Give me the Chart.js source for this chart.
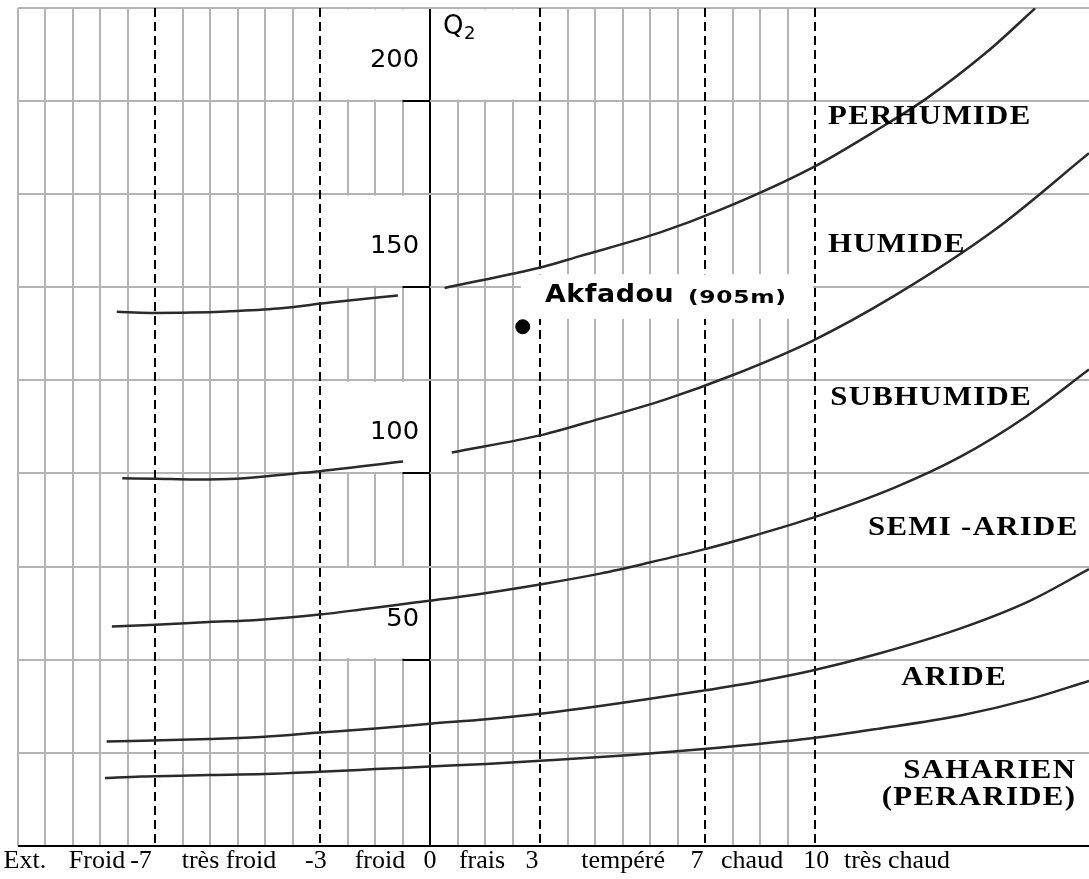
<!DOCTYPE html>
<html lang="fr">
<head>
<meta charset="utf-8">
<title>Climagramme d'Emberger – Akfadou</title>
<script src="https://cdn.jsdelivr.net/npm/chart.js@4.4.1/dist/chart.umd.min.js"></script>
<style>
  html, body { margin: 0; padding: 0; background: #fff; }
  canvas { display: block; }
</style>
</head>
<body>
<canvas id="climagramme" width="1089" height="879"></canvas>
<script>
// Emberger climagram: Q2 (pluviothermic quotient) against m, the mean minimum
// temperature of the coldest month. Horizontal unit = one grid column,
// column 0 being the Q2 axis (m = 0 °C).

// grid columns carrying a vertical line
const gridColumns = [-15, -14, -13, -12, -11, -10, -9, -8, -7, -6, -5, -4, -3, -2, -1,
                     0, 1, 2, 3, 4, 5, 6, 7, 8, 9, 10, 11, 12, 13, 14];

// thermal limits (m, °C) and the grid column where each one sits
const thermalLimits = [-7, -3, 0, 3, 7, 10];
const thermalLimitColumns = [-10, -4, 0, 4, 10, 14];

// bottom axis: thermal variants and limits
const xTickText = ["Ext.", "Froid", "-7", "très froid", "-3", "froid", "0", "frais", "3",
                   "tempéré", "7", "chaud", "10", "très chaud"];
const xTickColumns = [-14.73, -12.11, -10.51, -7.31, -4.15, -1.82, 0, 1.89, 3.71,
                      7.02, 9.71, 11.71, 14.04, 16.98];

// Q2 axis graduations
const q2Ticks = [50, 100, 150, 200];

// bioclimatic limits, [column, Q2]
const limitPerhumideLeft = [[-11.39, 143.4], [-10.18, 143.1], [-8.68, 143.2], [-7.41, 143.5],
                            [-5.53, 144.3], [-3.64, 145.9], [-1.17, 147.8]];
const limitPerhumideRight = [[0.53, 149.8], [4.15, 155.6], [5.42, 158.3], [8.32, 164.6],
                             [10.59, 170.9], [13.87, 182.0], [16.26, 192.3], [18.03, 200.6],
                             [20.30, 213.5], [22.0, 224.9]];
const limitHumideLeft = [[-11.19, 98.7], [-10.0, 98.6], [-8.55, 98.4], [-7.03, 98.6],
                         [-4.89, 100.0], [-4.0, 100.6], [-0.98, 103.2]];
const limitHumideRight = [[0.79, 105.6], [4.16, 110.5], [5.67, 113.6], [8.57, 119.9],
                          [10.97, 126.3], [13.87, 135.5], [16.77, 147.2], [20.55, 165.5],
                          [23.96, 186.0]];
const limitSubhumide = [[-11.57, 58.9], [-10.18, 59.3], [-8.04, 60.1], [-6.41, 60.6],
                        [-4.01, 62.1], [-2.37, 63.6], [-0.48, 65.4], [1.03, 66.8],
                        [4.16, 70.4], [6.18, 73.1], [7.94, 76.0], [9.96, 79.6],
                        [11.73, 83.2], [13.87, 88.0], [16.89, 96.2], [19.29, 104.5],
                        [21.68, 115.3], [23.96, 127.9]];
const limitSemiAride = [[-11.76, 28.0], [-10.44, 28.2], [-8.04, 28.7], [-6.02, 29.3],
                        [-4.01, 30.4], [-1.99, 31.5], [0, 32.8], [2.04, 34.0],
                        [4.16, 35.6], [6.05, 37.4], [7.44, 38.9], [9.96, 41.7],
                        [11.98, 44.2], [13.87, 47.0], [16.26, 51.5], [19.29, 58.4],
                        [21.81, 65.8], [23.96, 74.3]];
const limitAride = [[-11.82, 18.2], [-10.5, 18.6], [-8.04, 19.0], [-6.02, 19.3],
                    [-4.01, 19.9], [-1.99, 20.6], [0, 21.3], [2.04, 22.0], [4.16, 22.9],
                    [7.31, 24.4], [9.96, 26.0], [13.87, 28.9], [16.26, 31.4],
                    [19.29, 35.0], [21.81, 39.4], [23.96, 44.3]];

// bioclimatic stages
const zoneNames = ["PERHUMIDE", "HUMIDE", "SUBHUMIDE", "SEMI -ARIDE", "ARIDE", "SAHARIEN", "(PERARIDE)"];

// station
const stationName = "Akfadou";
const stationAltitude = "(905m)";
const stationColumn = [3.37];
const stationQ2 = [139.4];

const X_MIN = -15, X_MAX = 23.96, Y_MIN = 0, Y_MAX = 225;
const GRID_GREY = '#b4b4b4';
const CURVE = '#2a2a2a';

const toPoints = arr => arr.map(([x, y]) => ({ x, y }));
const curve = arr => ({
  data: toPoints(arr),
  showLine: true,
  borderColor: CURVE,
  borderWidth: 2.5,
  pointRadius: 0,
  cubicInterpolationMode: 'monotone',
  fill: false
});

// text with optional letter spacing and horizontal widening
function drawText(ctx, text, x, y, font, align, spacing, sx) {
  ctx.save();
  ctx.font = font;
  ctx.textAlign = align;
  ctx.textBaseline = 'middle';
  ctx.letterSpacing = (spacing || 0) + 'px';
  ctx.translate(x, y);
  ctx.scale(sx || 1, 1);
  ctx.fillText(text, align === 'right' ? (spacing || 0) : 0, 0);
  ctx.restore();
}

const overlay = {
  id: 'climagramOverlay',
  beforeDatasetsDraw(chart) {
    const { ctx, chartArea: a } = chart;
    const xs = chart.scales.xg, ys = chart.scales.y;
    const px = v => xs.getPixelForValue(v);
    const py = v => ys.getPixelForValue(v);
    ctx.save();

    // dashed thermal limits
    ctx.strokeStyle = '#000';
    ctx.lineWidth = 2;
    ctx.setLineDash([9, 5]);
    thermalLimitColumns.forEach((c, i) => {
      if (thermalLimits[i] === 0) return;
      const x = Math.round(px(c));
      ctx.beginPath();
      ctx.moveTo(x, a.top);
      ctx.lineTo(x, a.bottom);
      ctx.stroke();
    });
    ctx.setLineDash([]);

    // blank panels behind the texts
    ctx.fillStyle = '#fff';
    const panel = (c0, c1, q0, q1) => {
      const x0 = px(c0), x1 = px(c1), y0 = py(q1), y1 = py(q0);
      ctx.fillRect(x0, y0, x1 - x0, y1 - y0);
    };
    q2Ticks.forEach(q => panel(-3.5, -0.06, q + 0.4, q + 24.6));
    panel(0.07, 3.93, 200.4, 224.6);
    panel(3.3, 13.93, 141.5, 153.5);

    // Q2 graduations
    ctx.fillStyle = '#000';
    ctx.strokeStyle = '#000';
    ctx.lineWidth = 2;
    q2Ticks.forEach(q => {
      const y = Math.round(py(q));
      ctx.beginPath();
      ctx.moveTo(px(-1), y);
      ctx.lineTo(px(0), y);
      ctx.stroke();
      drawText(ctx, String(q), px(-0.4), y - 41, '25px "DejaVu Sans"', 'right', 0, 1.03);
    });

    // axis title Q2
    drawText(ctx, 'Q', px(0.47), py(Y_MAX) + 19, '26px "DejaVu Sans"', 'left', 0, 1);
    drawText(ctx, '2', px(0.47) + 21, py(Y_MAX) + 26, '18px "DejaVu Sans"', 'left', 0, 1);
    ctx.restore();
  },
  afterDatasetsDraw(chart) {
    const { ctx } = chart;
    const xs = chart.scales.xg, ys = chart.scales.y;
    const px = v => xs.getPixelForValue(v);
    const py = v => ys.getPixelForValue(v);
    ctx.save();
    ctx.fillStyle = '#000';

    const zoneFont = 'bold 28px "Liberation Serif"';
    const placement = [
      { col: 14.47, q: 195.8, align: 'left' },
      { col: 14.47, q: 161.4, align: 'left' },
      { col: 14.55, q: 120.4, align: 'left' },
      { col: 23.53, q: 85.5, align: 'right' },
      { col: 17.13, q: 45.0, align: 'left' },
      { col: 23.45, q: 20.1, align: 'right' },
      { col: 23.45, q: 12.9, align: 'right' }
    ];
    zoneNames.forEach((name, i) => {
      const p = placement[i];
      drawText(ctx, name, px(p.col), py(p.q), zoneFont, p.align, 1.2, 1.1);
    });

    drawText(ctx, stationName, px(4.18), py(147.8), 'bold 24px "DejaVu Sans"', 'left', 0.5, 1.12);
    drawText(ctx, stationAltitude, px(9.38), py(147.0), 'bold 18px "DejaVu Sans"', 'left', 0.5, 1.3);
    ctx.restore();
  }
};

new Chart(document.getElementById('climagramme'), {
  type: 'scatter',
  data: {
    datasets: [
      curve(limitPerhumideLeft),
      curve(limitPerhumideRight),
      curve(limitHumideLeft),
      curve(limitHumideRight),
      curve(limitSubhumide),
      curve(limitSemiAride),
      curve(limitAride),
      {
        data: stationColumn.map((x, i) => ({ x, y: stationQ2[i] })),
        pointRadius: 7,
        pointBackgroundColor: '#000',
        pointBorderColor: '#000',
        showLine: false
      }
    ]
  },
  plugins: [overlay],
  options: {
    responsive: false,
    animation: false,
    devicePixelRatio: 1,
    layout: { autoPadding: false, padding: { left: 17.5, right: 0, top: 8, bottom: 2 } },
    plugins: { legend: { display: false }, tooltip: { enabled: false } },
    scales: {
      x: {
        type: 'linear',
        position: 'bottom',
        min: X_MIN,
        max: X_MAX,
        afterBuildTicks: axis => { axis.ticks = xTickColumns.map(v => ({ value: v })); },
        ticks: {
          autoSkip: false,
          maxRotation: 0,
          padding: 0,
          color: '#000',
          font: { family: '"Liberation Serif", serif', size: 26 },
          callback: (value, index) => xTickText[index]
        },
        grid: { display: false, drawTicks: false },
        border: { display: false }
      },
      xg: {
        type: 'linear',
        position: 'bottom',
        min: X_MIN,
        max: X_MAX,
        afterBuildTicks: axis => { axis.ticks = gridColumns.map(v => ({ value: v })); },
        ticks: { display: false },
        grid: {
          drawTicks: false,
          color: ctx => {
            const v = ctx.tick && ctx.tick.value;
            if (v === 0) return '#000';
            return thermalLimitColumns.indexOf(v) >= 0 ? 'rgba(0,0,0,0)' : GRID_GREY;
          },
          lineWidth: 2
        },
        border: { display: false }
      },
      y: {
        type: 'linear',
        min: Y_MIN,
        max: Y_MAX,
        ticks: { display: false, stepSize: 25 },
        grid: {
          drawTicks: false,
          color: ctx => (ctx.tick && ctx.tick.value === 0 ? '#000' : GRID_GREY),
          lineWidth: 2
        },
        border: { display: false }
      }
    }
  }
});
</script>
</body>
</html>
